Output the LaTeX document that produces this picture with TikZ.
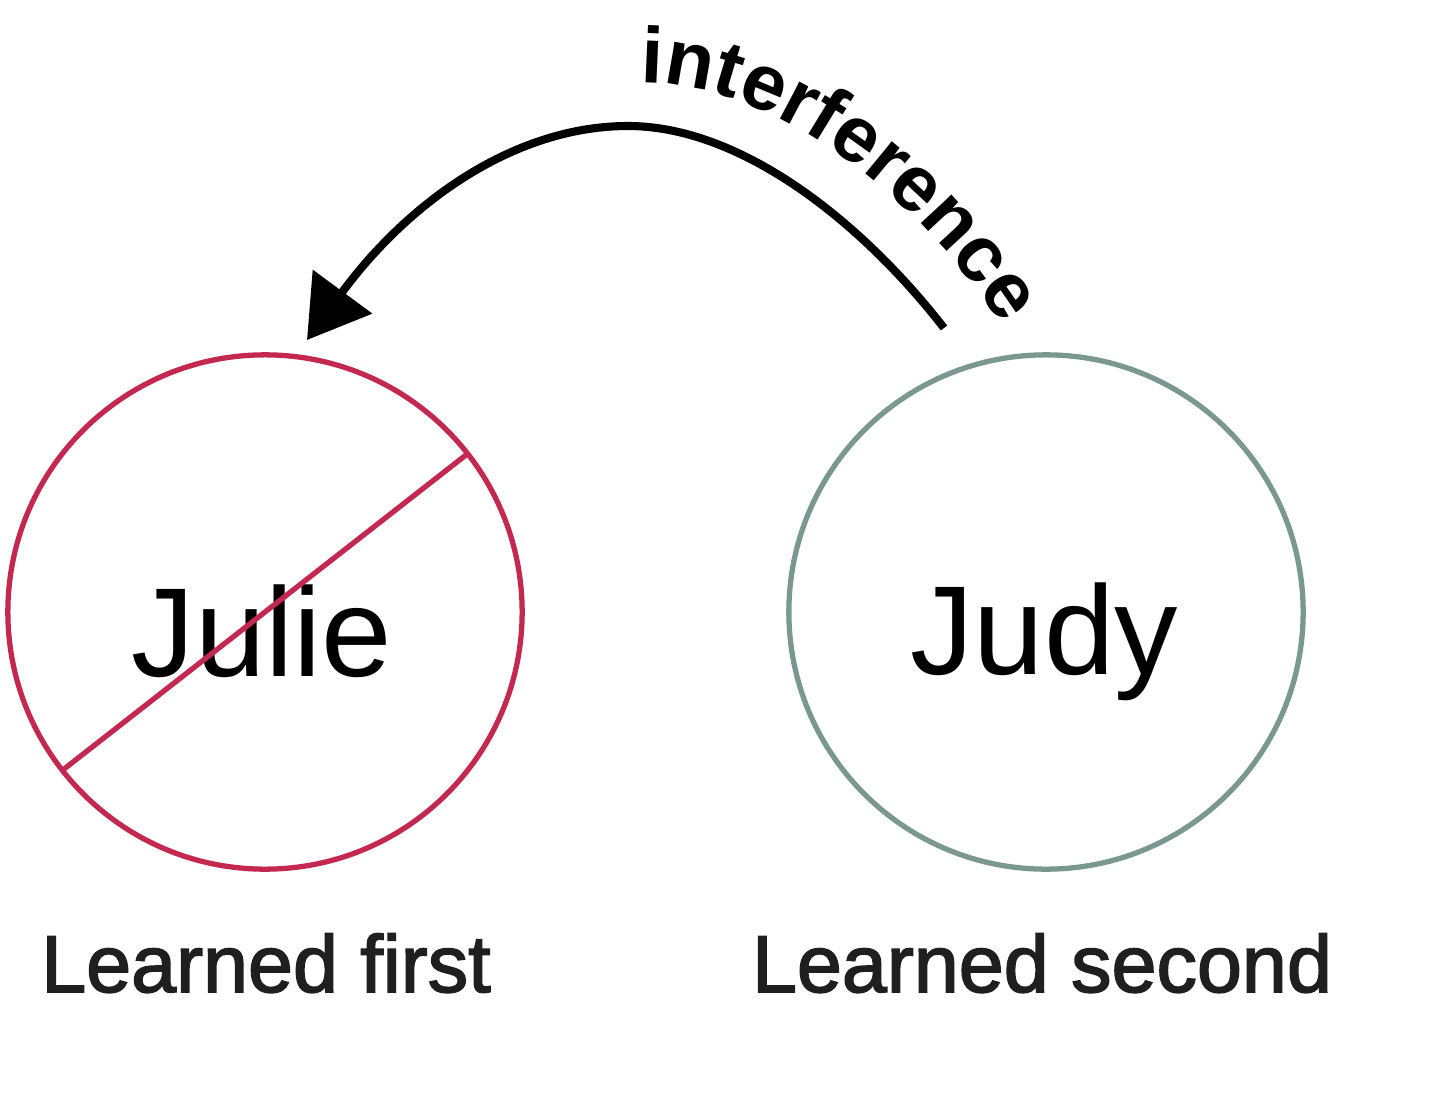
\documentclass[tikz,border=0pt]{standalone}
\usepackage{fontspec}
\setmainfont{Liberation Sans}
\newfontfamily\capfont[FakeBold=2]{Liberation Sans}
\usetikzlibrary{arrows.meta,decorations.text}
\definecolor{juliered}{RGB}{194,40,80}
\definecolor{judygreen}{RGB}{122,152,144}
\newcommand\intfont{\fontsize{22.5}{22.5}\selectfont\bfseries}
\begin{document}
\begin{tikzpicture}[x=0.01cm,y=-0.01cm,
  ring/.style={circle,inner sep=0pt,outer sep=0pt,line width=1.5pt,minimum size=5.14cm},
  namelabel/.style={font=\fontsize{36}{36}\selectfont,anchor=base,text=black},
  caplabel/.style={font=\capfont\fontsize{23}{23}\selectfont,anchor=base,text=black!88},
  bigarrow/.style={line width=2.3pt,-{Triangle[length=0.6cm,width=0.72cm]}}]
\useasboundingbox (0,0) rectangle (1440,1094);
\fill[white] (0,0) rectangle (1440,1094);
% circles
\node[ring,draw=juliered] (julie) at (265,612) {};
\node[ring,draw=judygreen] (judy) at (1046,612) {};
% names
\node[namelabel] (juliename) at (262,676) {Julie};
\node[namelabel] (judyname) at (1044,674) {Judy};
% slash
\draw[juliered,line width=1.5pt] (julie.38) -- (julie.218);
% captions
\node[caplabel] (cap1) at (266,992) {Learned first};
\node[caplabel] (cap2) at (1042,992) {Learned second};
% interference arrow
\coordinate (arrstart) at (944,328);
\coordinate (arrpeak) at (628,126);
\coordinate (arrtip) at (307,340);
\draw[bigarrow] (arrstart) .. controls (860,220) and (740,126) .. (arrpeak)
  .. controls (516,126) and (410,200) .. (arrtip);
% label along the arrow
\path[decorate,decoration={text along path,text align=left,text={|\intfont|interference}}]
  (640,83) .. controls (760,83) and (890,170) .. (985,300) -- (1040,380);
\end{tikzpicture}
\end{document}
